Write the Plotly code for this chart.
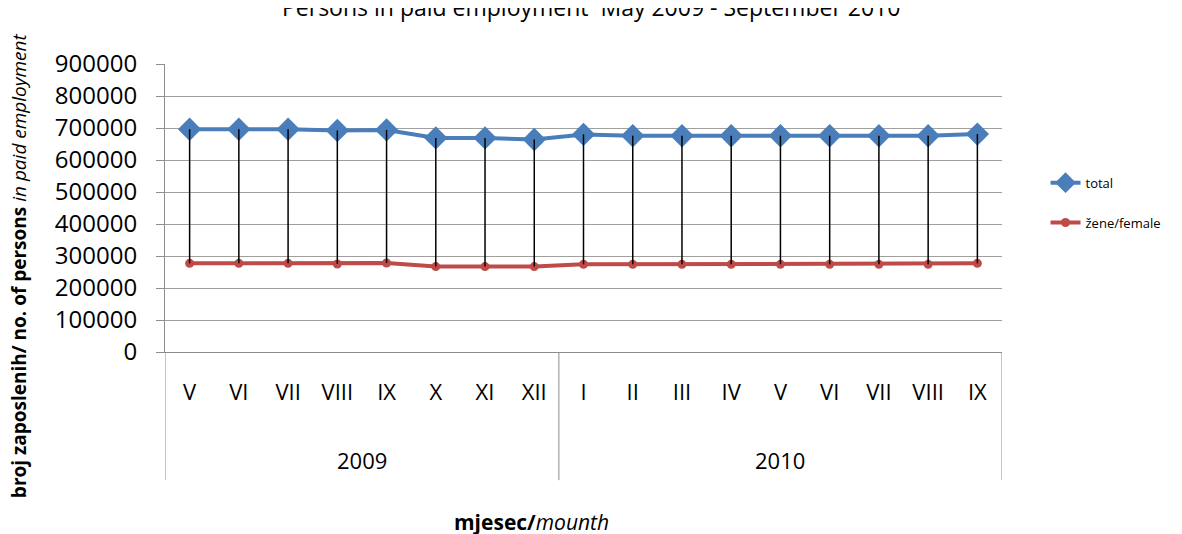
import plotly.graph_objects as go

months = ["V", "VI", "VII", "VIII", "IX", "X", "XI", "XII",
          "I", "II", "III", "IV", "V", "VI", "VII", "VIII", "IX"]
years = ["2009"] * 8 + ["2010"] * 9
total = [696000, 696000, 696000, 692000, 694000, 669000, 669000, 664000,
         680000, 676000, 676000, 676000, 676000, 676000, 676000, 676000, 681000]
female = [277000, 277000, 277000, 275000, 278000, 267000, 267000, 267000,
          274000, 274000, 274000, 274000, 274000, 274000, 274000, 274000, 277000]

FONT = "Open Sans"
GRAY = "#8C8C8C"

idx = list(range(len(months)))

fig = go.Figure()
fig.add_trace(go.Scatter(
    x=idx, y=total, mode="lines+markers", name="total",
    legendgroup="a",
    line=dict(color="#4A7EBB", width=4),
    marker=dict(symbol="diamond", size=18, color="#4A7EBB"),
))
fig.add_trace(go.Scatter(
    x=idx, y=female, mode="lines+markers", name="žene/female",
    legendgroup="b",
    line=dict(color="#BE4B48", width=4),
    marker=dict(symbol="circle", size=9, color="#BE4B48"),
))
# high-low drop lines between the two series
dx, dy = [], []
for i, t, f in zip(idx, total, female):
    dx += [i, i, None]
    dy += [t, f, None]
fig.add_trace(go.Scatter(
    x=dx, y=dy, mode="lines", showlegend=False, hoverinfo="skip",
    line=dict(color="black", width=1.5),
))

# year groups: labels and dividers
groups = []
for i, y in enumerate(years):
    if not groups or groups[-1][0] != y:
        groups.append([y, i, i])
    else:
        groups[-1][2] = i

shapes = []
annotations = []
bottom = -0.445
for g, start, end in groups:
    annotations.append(dict(
        x=(start + end) / 2, y=-0.375, xref="x", yref="paper",
        text=g, showarrow=False, yanchor="middle",
        font=dict(family=FONT, size=22, color="black"),
    ))
    shapes.append(dict(type="line", xref="x", yref="paper",
                       x0=start - 0.5, x1=start - 0.5, y0=0, y1=bottom,
                       line=dict(color=GRAY, width=1)))
shapes.append(dict(type="line", xref="x", yref="paper",
                   x0=len(months) - 0.5, x1=len(months) - 0.5, y0=0, y1=bottom,
                   line=dict(color=GRAY, width=1)))

annotations.append(dict(
    x=0.509, y=1.198, xref="paper", yref="paper", showarrow=False,
    text="Persons in paid employment  May 2009 - September 2010",
    yanchor="middle", font=dict(family=FONT, size=23, color="black"),
))
annotations.append(dict(
    x=-0.175, y=0.30, xref="paper", yref="paper", showarrow=False,
    textangle=-90, xanchor="center", yanchor="middle",
    text="<b>broj zaposlenih/ no. of persons</b> <i>in paid employment</i>",
    font=dict(family=FONT, size=19, color="black"),
))
annotations.append(dict(
    x=0.438, y=-0.59, xref="paper", yref="paper", showarrow=False,
    xanchor="center", yanchor="middle",
    text="<b>mjesec/</b><i>mounth</i>",
    font=dict(family=FONT, size=21, color="black"),
))

fig.update_layout(
    width=1182, height=534,
    margin=dict(l=157, r=188, t=56, b=190),
    paper_bgcolor="white", plot_bgcolor="white",
    showlegend=True,
    legend=dict(x=1.052, y=0.64, xanchor="left", yanchor="top",
                font=dict(family=FONT, size=13, color="black"),
                traceorder="grouped", tracegroupgap=20,
                bgcolor="rgba(0,0,0,0)"),
    shapes=shapes, annotations=annotations,
    xaxis=dict(
        range=[-0.5, len(months) - 0.5], tickmode="array",
        tickvals=idx, ticktext=months, ticks="",
        showgrid=False, zeroline=False, showline=True,
        linecolor=GRAY, linewidth=1,
        tickfont=dict(family=FONT, size=22, color="black"),
        ticklabelstandoff=21,
    ),
    yaxis=dict(
        range=[0, 900000], dtick=100000, tickformat="d",
        showgrid=True, gridcolor="#A0A0A0", gridwidth=1,
        zeroline=False, showline=True, linecolor=GRAY, linewidth=1,
        ticks="outside", ticklen=8, tickcolor=GRAY,
        tickfont=dict(family=FONT, size=24, color="black"),
        ticklabelstandoff=14,
    ),
)

fig.write_html("out.html")
